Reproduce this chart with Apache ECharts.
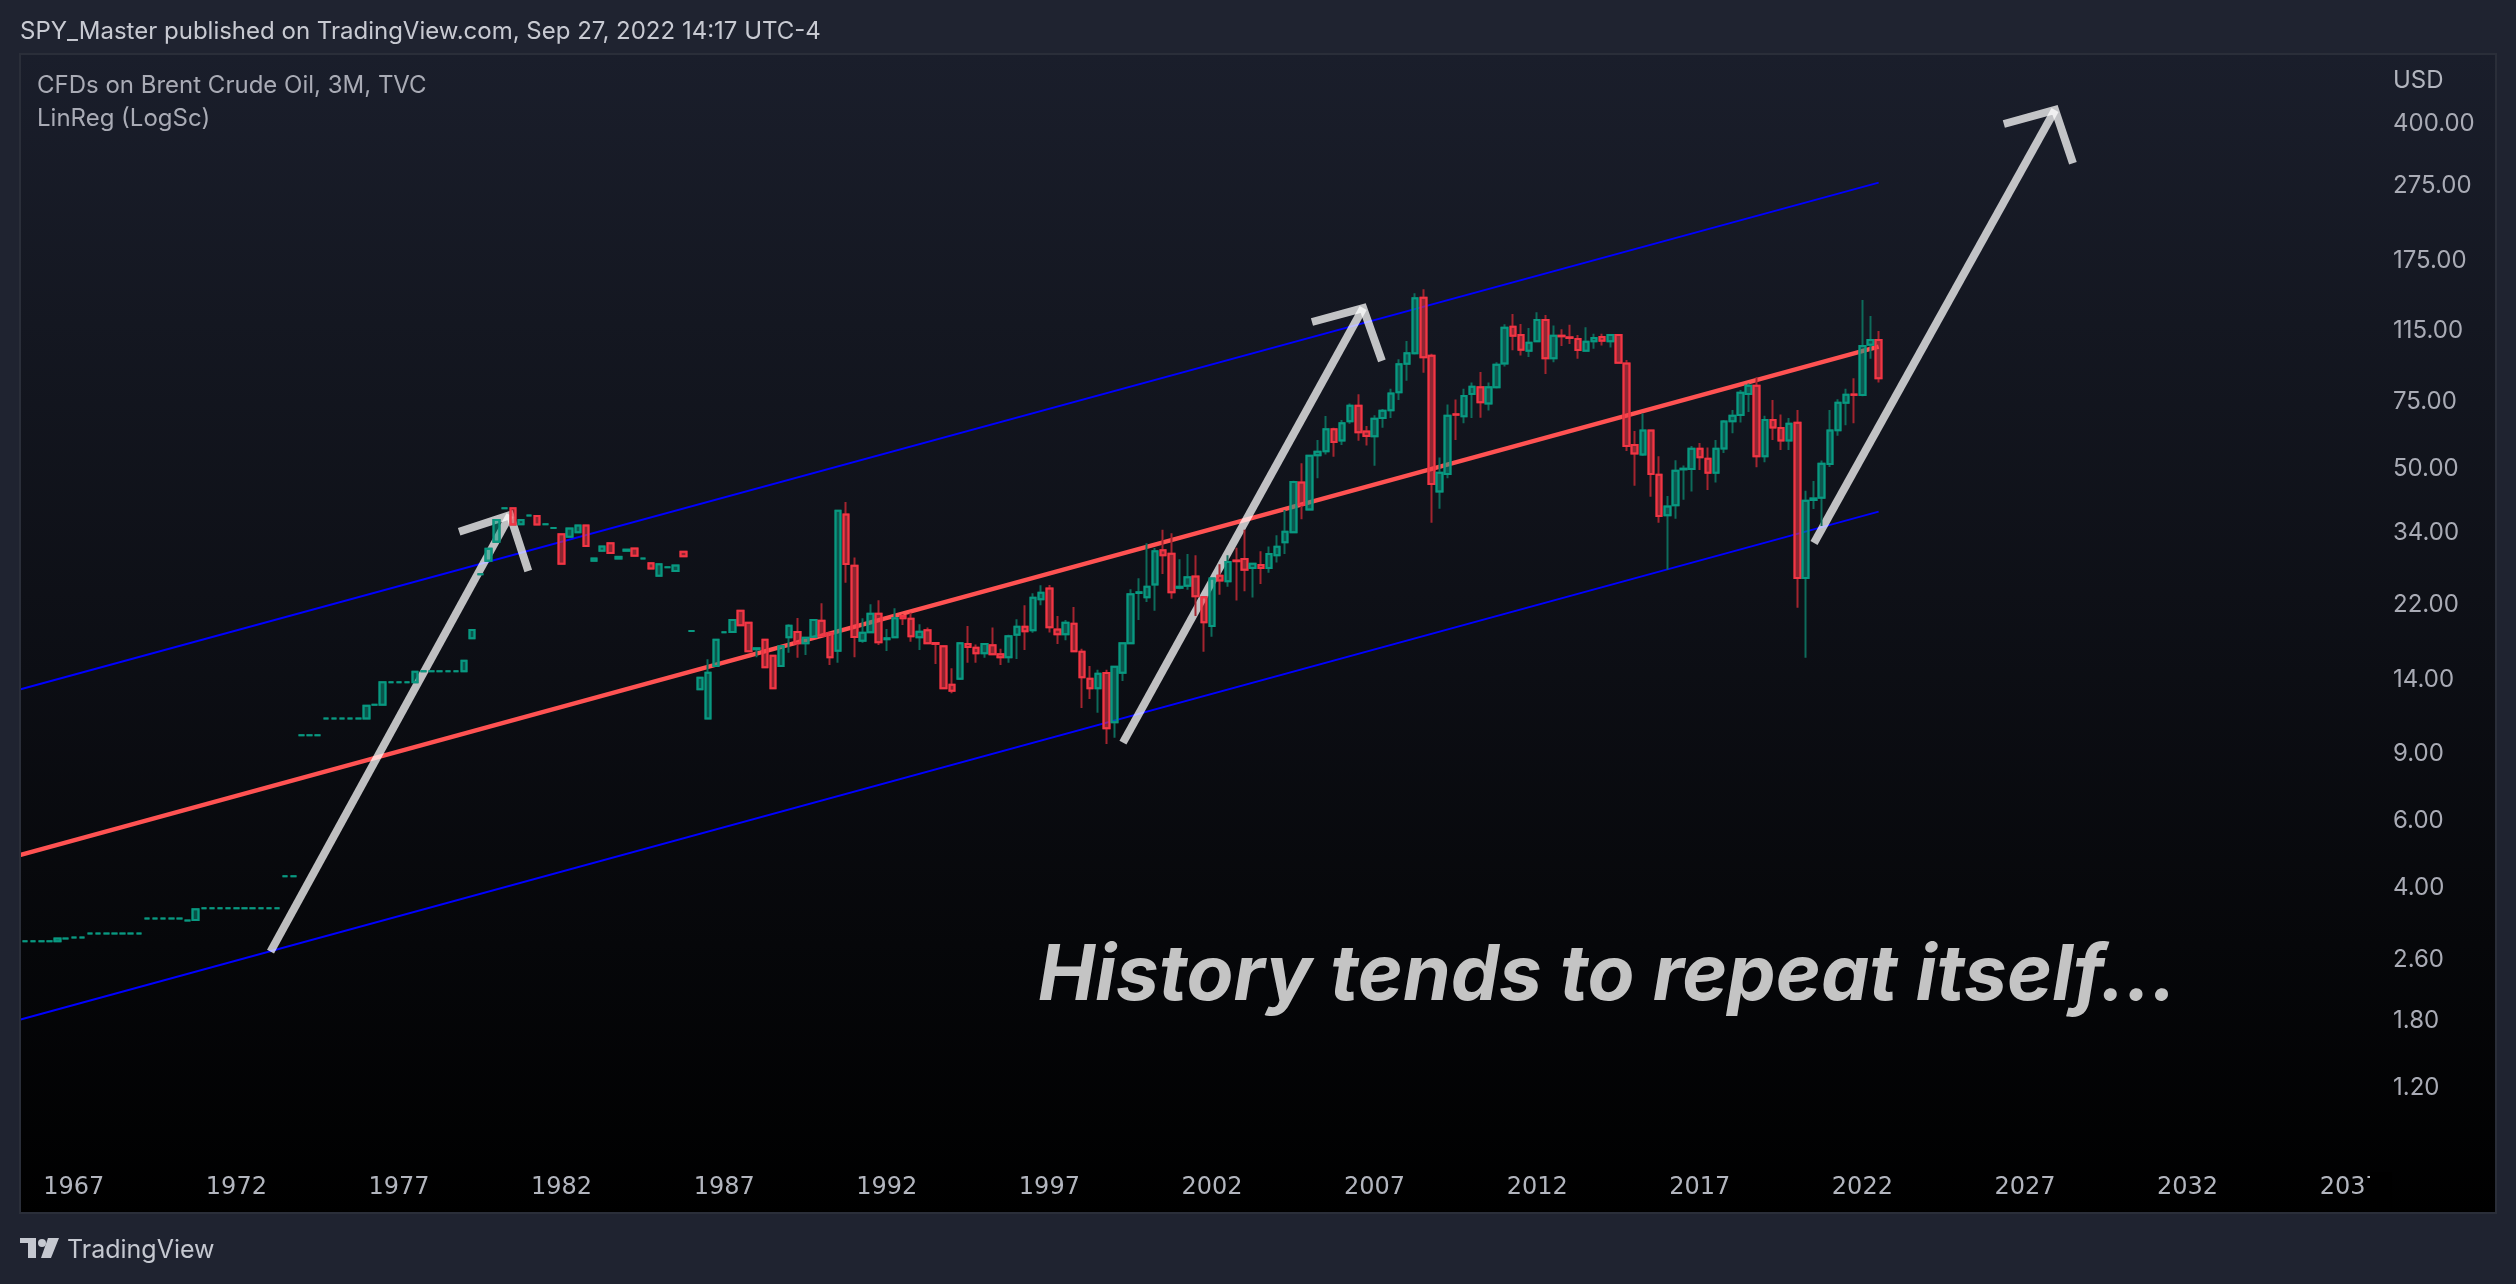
<!DOCTYPE html>
<html>
<head>
<meta charset="utf-8">
<title>CFDs on Brent Crude Oil, 3M, TVC</title>
<style>
  html, body { margin: 0; padding: 0; background: #1f2330; }
  #chart { width: 2516px; height: 1284px; }
</style>
<script src="https://cdn.jsdelivr.net/npm/echarts@6/dist/echarts.min.js"></script>
</head>
<body>
<div id="chart"></div>
<script>
// quarterly bars, the first one (1965 Q1) sits behind the left frame
const opens = [
  2.90,2.90,2.90,2.90,2.90,2.90,2.90,2.95,2.97,2.97,
  3.04,3.04,3.04,3.04,3.04,3.04,3.04,3.33,3.33,3.33,
  3.33,3.33,3.29,3.30,3.54,3.54,3.54,3.54,3.54,3.54,
  3.54,3.54,3.54,3.54,4.29,4.29,10.03,10.03,10.03,11.11,
  11.11,11.11,11.11,11.11,11.11,12.07,12.07,13.81,13.81,13.81,
  13.81,14.75,14.75,14.75,14.75,14.75,14.75,18.0,26.47,28.7,
  32.2,39.4,39.4,35.8,37.7,37.6,35.8,35.0,33.7,33.2,
  34.1,35.5,28.7,30.5,31.9,29.1,30.5,30.9,29.1,28.3,
  26.25,27.6,27.0,30.3,18.8,13.24,11.11,15.23,18.66,18.7,
  21.25,19.77,16.85,17.85,16.21,15.23,18.11,18.7,17.47,18.17,
  20.0,18.55,16.7,37.97,27.87,17.74,18.66,20.88,17.9,18.11,
  20.6,20.25,18.11,18.89,17.5,17.15,13.61,14.11,17.4,17.0,
  16.44,17.25,16.34,16.05,18.4,19.3,18.9,22.77,24.3,18.98,
  18.45,19.65,16.6,14.11,13.32,14.6,10.85,14.63,17.47,23.65,
  23.04,24.9,30.6,29.96,24.4,24.71,26.1,23.04,19.38,26.25,
  25.4,28.75,29.0,27.5,28.0,27.5,29.7,32.1,34.1,46.0,
  39.1,54.2,55.5,63.4,59.3,66.5,73.1,62.6,60.8,67.9,
  71.1,79.2,94.1,100.2,140.1,98.8,43.6,48.4,69.4,68.6,
  78.4,81.7,74.1,81.7,94.3,117.6,111.9,101.8,107.7,122.5,
  97.2,111.4,110.3,109.2,101.8,107.7,110.5,107.7,111.9,94.2,
  57.7,54.5,62.9,48.2,37.8,40.1,49.8,49.9,56.4,53.1,
  48.8,56.5,66.5,69.1,78.4,82.4,53.9,67,63.9,59.3,
  65.9,25.9,41.4,42,51.4,63,74.4,78.2,77.9,105.5,
  108.6
];
const closes = [
  2.90,2.90,2.90,2.90,2.90,2.90,2.95,2.95,2.97,2.97,
  3.04,3.04,3.04,3.04,3.04,3.04,3.04,3.33,3.33,3.33,
  3.33,3.33,3.29,3.52,3.54,3.54,3.54,3.54,3.54,3.54,
  3.54,3.54,3.54,3.54,4.29,4.29,10.03,10.03,10.03,11.11,
  11.11,11.11,11.11,11.11,11.99,12.07,13.81,13.81,13.81,13.81,
  14.72,14.75,14.75,14.75,14.75,14.75,15.72,18.93,26.47,30.88,
  36.7,39.4,35.7,36.7,37.7,35.7,35.8,35.0,28.2,34.85,
  35.5,31.4,29.1,31.3,30.1,29.4,30.7,29.6,29.1,27.4,
  28.1,27.6,27.9,29.5,18.8,14.2,14.63,17.85,18.66,20.1,
  19.47,16.64,16.95,15.11,13.32,17.15,19.42,17.47,18.07,20.1,
  18.29,16.05,38.8,28.16,18.14,18.62,20.88,17.57,18.0,20.3,
  20.3,18.22,18.73,17.47,17.4,13.32,13.13,17.47,17.08,16.44,
  17.4,16.34,16.05,18.22,19.3,18.77,22.99,23.69,19.23,18.45,
  19.77,16.64,14.23,13.32,14.54,10.47,15.17,17.47,23.46,23.75,
  24.56,30.4,29.7,23.75,24.55,25.99,23.2,19.82,25.8,25.5,
  28.5,28.65,27.2,28.2,27.5,29.9,31.25,34.2,46.15,40.2,
  54.07,55.4,63.4,58.7,65.7,73.1,62.3,60.9,67.6,70.9,
  78.6,93.8,100.2,139.6,97.8,45.6,48.8,68.8,69.2,77.5,
  81.9,74.6,81.7,93.5,116.9,111.4,102.3,106.7,122.5,97.2,
  111.4,111.0,109.9,102.2,107.5,109.9,108,111.9,94.6,57.3,
  54.8,62.9,48.4,37.6,39.8,49.4,50,56.4,53.6,48.8,
  56.4,66.4,68.8,79,82.4,53.9,67,64.1,59.3,65.5,
  25.9,41.2,41.8,51.5,62.9,74.4,78.1,78,104.7,108.6,
  86.2
];
const lows = [
  2.90,2.90,2.90,2.90,2.90,2.90,2.90,2.95,2.97,2.97,
  3.04,3.04,3.04,3.04,3.04,3.04,3.04,3.33,3.33,3.33,
  3.33,3.33,3.29,3.30,3.54,3.54,3.54,3.54,3.54,3.54,
  3.54,3.54,3.54,3.54,4.29,4.29,10.03,10.03,10.03,11.11,
  11.11,11.11,11.11,11.11,11.11,12.07,12.07,13.81,13.81,13.81,
  13.81,14.75,14.75,14.75,14.75,14.75,14.75,18.0,26.47,28.7,
  32.2,39.4,35.7,35.8,37.7,35.7,35.8,35.0,28.2,33.2,
  34.1,31.4,28.7,30.5,30.1,29.1,30.5,29.6,29.1,27.4,
  26.25,27.6,27.0,29.5,18.8,13.24,11.11,15.23,18.66,18.7,
  19.47,16.64,16.05,15.11,13.32,15.23,16.5,16.0,16.28,18.17,
  18.29,15.33,15.54,25.16,16.05,17.53,18.66,17.29,16.67,18.11,
  19.5,17.63,16.77,17.4,15.42,13.32,12.92,14.0,15.54,15.54,
  16.0,16.34,15.33,15.54,15.89,16.77,18.6,21.96,18.65,17.4,
  17.8,16.64,11.83,12.49,11.5,9.52,9.89,13.92,17.47,20.1,
  22.4,21.25,26.5,22.85,24.2,24.1,20.6,16.6,18.17,23.4,
  24.56,22.6,23.9,23.0,24.96,26.7,28.4,29.9,34.1,36.9,
  39.0,47.2,54.5,53.7,57.7,65.5,59.2,57.5,50.9,64,
  67.9,75.6,84.9,99.5,89.1,36.1,39.3,47.2,59.4,65.7,
  67.9,68,71,81,92.6,102,98.9,98,107.7,88.5,
  95,104.7,106,96.9,101.5,103,105,103.8,94.2,55.6,
  45.1,54,42.2,36.1,27.2,37,41.5,43.6,49.6,44,
  46,55,61.9,66,70.4,50.4,52,59.4,56,56,
  21.65,16,39.2,35.4,50.5,61,65,65.7,77.3,97,
  84
];
const highs = [
  2.90,2.90,2.90,2.90,2.90,2.90,2.95,2.95,2.97,2.97,
  3.04,3.04,3.04,3.04,3.04,3.04,3.04,3.33,3.33,3.33,
  3.33,3.33,3.29,3.52,3.54,3.54,3.54,3.54,3.54,3.54,
  3.54,3.54,3.54,3.54,4.29,4.29,10.03,10.03,10.03,11.11,
  11.11,11.11,11.11,11.11,11.99,12.07,13.81,13.81,13.81,13.81,
  14.72,14.75,14.75,14.75,14.75,14.75,15.72,18.93,26.47,30.88,
  36.7,39.4,39.4,36.7,37.7,37.6,35.8,35.0,33.7,34.85,
  35.5,35.5,29.1,31.3,31.9,29.4,30.7,30.9,29.1,28.3,
  28.1,27.6,27.9,30.3,18.8,14.2,15.86,17.85,18.66,20.1,
  21.25,19.77,16.95,17.85,16.21,17.15,19.6,20.34,18.07,20.1,
  22.22,18.55,38.8,40.9,29.3,20.3,22.09,22.63,19.04,21.56,
  20.8,21.0,19.6,19.2,17.5,17.2,15.03,17.6,19.38,17.35,
  17.4,19.2,16.9,18.4,20.2,21.96,23.6,24.77,24.8,20.6,
  20.1,21.74,16.9,15.23,14.9,14.9,15.17,17.47,24.2,25.84,
  31.9,31.0,34.6,33.9,28.97,29.9,29.7,23.2,25.8,28.1,
  29.7,31.07,34.6,28.3,30.4,31.3,33.5,39.0,46.5,51.7,
  54.07,59.4,68.7,64,67,74,78.3,64.7,69,71.6,
  80.9,96.7,107.9,143.9,147.4,100,53.5,73.6,75.9,80.9,
  84,89.5,84,95,119.3,127,119.5,116.7,128.3,126.2,
  118.5,115.8,119,111.8,117.3,112.8,112.7,112.6,112.3,96.2,
  62.7,69.7,63,53.9,42.4,52.6,51,57.3,58.4,56.8,
  59.4,67,71.2,80.3,83.5,86.7,68.8,75.6,69.3,67.9,
  71.2,43.8,46.4,52.5,71.2,76,80.9,86.2,138.1,125.5,
  114.6
];

const priceTicks = [400, 275, 175, 115, 75, 50, 34, 22, 14, 9, 6, 4, 2.6, 1.8, 1.2];
const yearTicks = ['1967', '1972', '1977', '1982', '1987', '1992', '1997', '2002', '2007', '2012', '2017', '2022', '2027', '2032', '2037'];

// regression channel, [bar, price]
const regMid = [[0, 4.786], [230, 104.3]];
const regUpper = [[0, 12.99], [230, 280.2]];
const regLower = [[0, 1.776], [230, 38.6]];

// hand drawn arrows, [bar, price]
const arrowShafts = [
  [[32.2, 2.725], [61.66, 37.8]],
  [[137.05, 9.6], [166.6, 131.6]],
  [[222.05, 31.96], [251.7, 434]]
];
const arrowHeads = [
  [[55.4, 34.2], [61.66, 37.8], [63.9, 27.0]],
  [[160.3, 121], [166.6, 131.6], [168.9, 95.7]],
  [[245.4, 398.8], [251.7, 434], [253.9, 315]]
];

const barCount = 291;
const quarters = [];
for (let i = 0; i < barCount; i++) {
  quarters.push((1965 + Math.floor(i / 4)) + ' Q' + (i % 4 + 1));
}

const FONT = 'Inter, "Noto Sans", sans-serif';
const UP = '#089981';
const DOWN = '#f23645';

function overlayLine(points, color, width, z) {
  return {
    type: 'line',
    xAxisIndex: 1,
    data: points,
    symbol: 'none',
    silent: true,
    z: z,
    lineStyle: { color: color, width: width, cap: 'butt', join: 'miter' }
  };
}

const wicks = quarters.map((q, i) => i < opens.length ? [opens[i], closes[i], lows[i], highs[i]] : '-');
const bodies = quarters.map((q, i) => i < opens.length ? [opens[i], closes[i], Math.min(opens[i], closes[i]), Math.max(opens[i], closes[i])] : '-');

const chart = echarts.init(document.getElementById('chart'));
chart.setOption({
  animation: false,
  backgroundColor: '#1f2330',
  grid: { left: 4.67, top: 54, width: 2365.83, height: 1116 },
  xAxis: [
    {
      type: 'category',
      data: quarters,
      axisLine: { show: false },
      axisTick: { show: false },
      splitLine: { show: false },
      axisLabel: {
        color: '#b2b5be',
        fontFamily: '"DejaVu Sans", Inter, sans-serif',
        fontSize: 24,
        margin: 6,
        hideOverlap: false,
        interval: (i, val) => val.endsWith('Q1') && yearTicks.includes(val.slice(0, 4)),
        formatter: val => val.slice(0, 4)
      }
    },
    { type: 'value', min: -0.5, max: barCount - 0.5, show: false }
  ],
  yAxis: {
    type: 'log',
    position: 'right',
    min: 0.7315,
    max: 608,
    axisLine: { show: false },
    axisTick: { show: false },
    splitLine: { show: false },
    axisLabel: {
      color: '#a9abb5',
      fontFamily: FONT,
      fontSize: 24,
      margin: 22.5,
      align: 'left',
      padding: [4, 0, 0, 0],
      customValues: priceTicks,
      formatter: v => v.toFixed(2)
    }
  },
  series: [
    overlayLine(regUpper, '#0000ff', 2, 2),
    overlayLine(regLower, '#0000ff', 2, 2),
    overlayLine(regMid, '#ff5252', 4.4, 2),
    ...arrowShafts.map(p => overlayLine(p, 'rgba(255,255,255,0.74)', 8, 3)),
    ...arrowHeads.map(p => overlayLine(p, 'rgba(255,255,255,0.74)', 8, 3)),
    {
      // wicks are dimmer than the bodies so they get their own series
      type: 'candlestick',
      data: wicks,
      barWidth: 6,
      silent: true,
      z: 4,
      itemStyle: {
        color: 'transparent',
        color0: 'transparent',
        borderColor: '#0d6b5b',
        borderColor0: '#a3242f',
        borderColorDoji: '#0d6b5b',
        borderWidth: 2
      }
    },
    {
      type: 'candlestick',
      data: bodies,
      barWidth: 6,
      silent: true,
      z: 5,
      itemStyle: {
        color: 'rgba(8,153,129,0.5)',
        color0: 'rgba(242,54,69,0.55)',
        borderColor: UP,
        borderColor0: DOWN,
        borderColorDoji: UP,
        borderWidth: 2
      }
    }
  ],
  graphic: [
    {
      type: 'rect', z: 0, silent: true,
      shape: { x: 20, y: 54, width: 2476, height: 1159 },
      style: {
        fill: new echarts.graphic.LinearGradient(0, 0, 0, 1, [
          { offset: 0, color: '#1a1e2b' },
          { offset: 1, color: '#000000' }
        ]),
        stroke: '#2a2e39',
        lineWidth: 2
      }
    },
    // frame strip over the clipped left end of the lines, and the cut off 2037 label
    { type: 'rect', z: 100, silent: true, shape: { x: 0, y: 55, width: 19, height: 1160 }, style: { fill: '#1f2330' } },
    { type: 'rect', z: 100, silent: true, shape: { x: 19, y: 53, width: 2, height: 1161 }, style: { fill: '#2a2e39' } },
    { type: 'rect', z: 100, silent: true, shape: { x: 2370, y: 1172, width: 22, height: 40 }, style: { fill: '#000000' } },
    {
      type: 'text', z: 101, silent: true, x: 20, y: 32,
      style: { text: 'SPY_Master published on TradingView.com, Sep 27, 2022 14:17 UTC-4', fill: '#c8cad2', font: '24px ' + FONT, verticalAlign: 'middle' }
    },
    {
      type: 'text', z: 101, silent: true, x: 37, y: 86,
      style: { text: 'CFDs on Brent Crude Oil, 3M, TVC', fill: '#a9abb5', font: '24px ' + FONT, verticalAlign: 'middle' }
    },
    {
      type: 'text', z: 101, silent: true, x: 37, y: 119,
      style: { text: 'LinReg (LogSc)', fill: '#a9abb5', font: '24px ' + FONT, verticalAlign: 'middle' }
    },
    {
      type: 'text', z: 101, silent: true, x: 2393, y: 81,
      style: { text: 'USD', fill: '#b2b5be', font: '24px ' + FONT, verticalAlign: 'middle' }
    },
    {
      type: 'text', z: 101, silent: true, x: 1038, y: 977,
      style: { text: 'History tends to repeat itself...', fill: '#c4c4c4', font: 'italic 700 76.7px ' + FONT, verticalAlign: 'middle' }
    },
    // TradingView logo
    { type: 'polygon', z: 101, silent: true, shape: { points: [[20, 1238], [36, 1238], [36, 1258], [28, 1258], [28, 1243], [20, 1243]] }, style: { fill: '#c5c8d0' } },
    { type: 'circle', z: 101, silent: true, shape: { cx: 42, cy: 1243, r: 4 }, style: { fill: '#c5c8d0' } },
    { type: 'polygon', z: 101, silent: true, shape: { points: [[41, 1258], [51, 1258], [59, 1238], [48, 1238]] }, style: { fill: '#c5c8d0' } },
    {
      type: 'text', z: 101, silent: true, x: 67, y: 1250,
      style: { text: 'TradingView', fill: '#c5c8d0', font: '25px ' + FONT, verticalAlign: 'middle' }
    }
  ]
});

window.addEventListener('resize', () => chart.resize());
</script>
</body>
</html>
